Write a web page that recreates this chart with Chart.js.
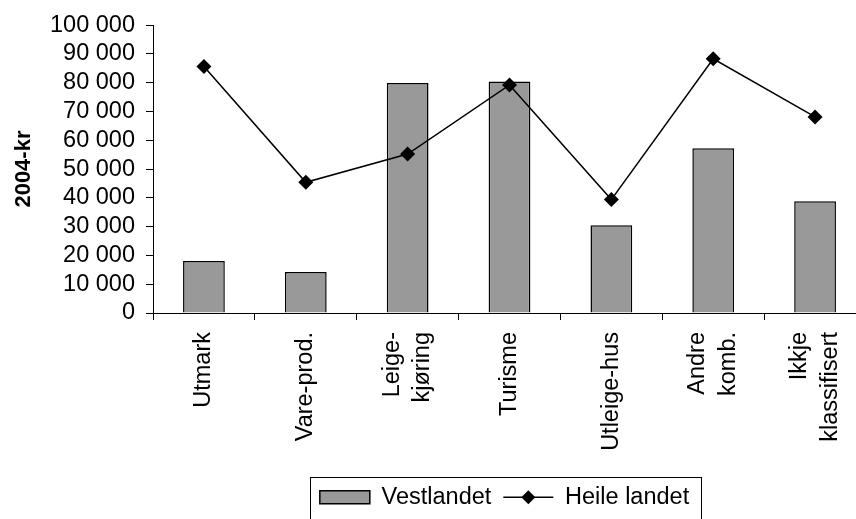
<!DOCTYPE html>
<html>
<head>
<meta charset="utf-8">
<script src="https://cdn.jsdelivr.net/npm/chart.js@4/dist/chart.umd.min.js"></script>
<style>
  html, body { margin: 0; padding: 0; background: #fff; overflow: hidden; }
  #wrap { width: 920px; height: 519px; }
</style>
</head>
<body>
<div id="wrap"><canvas id="myChart" width="920" height="519"></canvas></div>
<script>
// categories and values
const categories = [
    'Utmark', 'Vare-prod.', ['Leige-', 'kjøring'], 'Turisme',
    'Utleige-hus', ['Andre', 'komb.'], ['Ikkje', 'klassifisert']
];
const vestlandet = [18100, 14200, 79900, 80400, 30500, 57200, 38800];
const heileLandet = [85600, 45400, 55200, 79200, 39400, 88300, 68100];
const yTickLabels = ['0', '10 000', '20 000', '30 000', '40 000', '50 000',
    '60 000', '70 000', '80 000', '90 000', '100 000'];

const FONT = "'Liberation Sans', Arial, sans-serif";
const X_FONT_SIZE = 23.5;
const X_LINE_HEIGHT = 1.3;

// centre the two-line category labels on their tick (Chart.js puts the first line on it)
const centreLabels = {
    id: 'centreLabels',
    beforeDraw(chart) {
        const items = chart.scales.x.getLabelItems();
        const lh = X_FONT_SIZE * X_LINE_HEIGHT;
        items.forEach(item => {
            if (item._centred) return;
            const n = Array.isArray(item.label) ? item.label.length : 1;
            item.options.translation[0] -= (n - 1) * lh / 2;
            item._centred = true;
        });
    }
};

// draws the legend symbols and the frame round the legend
const legendFrame = {
    id: 'legendFrame',
    afterLayout(chart) {
        // the legend sits a little left of the plot centre in the original
        chart.legend.left -= 5;
        chart.legend.right -= 5;
    },
    afterDraw(chart) {
        const legend = chart.legend;
        const boxes = legend.legendHitBoxes;
        if (!boxes || !boxes.length) return;
        const ctx = chart.ctx;
        ctx.save();

        boxes.forEach((hb, i) => {
            const ds = chart.data.datasets[legend.legendItems[i].datasetIndex];
            const cy = hb.top + hb.height / 2;
            if (ds.type === 'line') {
                ctx.strokeStyle = '#000';
                ctx.lineWidth = 1.5;
                ctx.beginPath();
                ctx.moveTo(hb.left, cy);
                ctx.lineTo(hb.left + 50, cy);
                ctx.stroke();
                ctx.fillStyle = '#000';
                ctx.beginPath();
                const cx = hb.left + 25, r = 7;
                ctx.moveTo(cx - r, cy);
                ctx.lineTo(cx, cy - r);
                ctx.lineTo(cx + r, cy);
                ctx.lineTo(cx, cy + r);
                ctx.closePath();
                ctx.fill();
            } else {
                ctx.fillStyle = '#999999';
                ctx.strokeStyle = '#000';
                ctx.lineWidth = 1.5;
                ctx.fillRect(hb.left, cy - 6.5, 50, 13);
                ctx.strokeRect(hb.left, cy - 6.5, 50, 13);
            }
        });

        const first = boxes[0], last = boxes[boxes.length - 1];
        const left = first.left - 10;
        const right = last.left + last.width + 12;
        const top = first.top + first.height / 2 - 20;
        ctx.strokeStyle = '#000';
        ctx.lineWidth = 1;
        ctx.strokeRect(Math.round(left) + 0.5, Math.round(top) + 0.5, Math.round(right - left), 60);
        ctx.restore();
    }
};

const ctx = document.getElementById('myChart').getContext('2d');
new Chart(ctx, {
    data: {
        labels: categories,
        datasets: [
            {
                type: 'bar',
                label: 'Vestlandet',
                data: vestlandet,
                backgroundColor: '#999999',
                borderColor: '#000',
                borderWidth: 1.5,
                categoryPercentage: 1,
                barPercentage: 0.41,
                order: 2
            },
            {
                type: 'line',
                label: 'Heile landet',
                data: heileLandet,
                borderColor: '#000',
                borderWidth: 1.5,
                backgroundColor: '#000',
                pointStyle: 'rectRot',
                pointRadius: 7.5,
                pointBorderWidth: 0,
                pointBackgroundColor: '#000',
                tension: 0,
                fill: false,
                order: 1
            }
        ]
    },
    options: {
        responsive: false,
        animation: false,
        devicePixelRatio: 1,
        layout: { padding: { top: 24, left: 11, right: 54, bottom: 0 } },
        plugins: {
            tooltip: { enabled: false },
            legend: {
                position: 'bottom',
                fullSize: false,
                labels: {
                    color: '#000',
                    font: { family: FONT, size: 23.5 },
                    boxWidth: 50,
                    boxHeight: 13,
                    padding: 12,
                    sort: (a, b) => a.datasetIndex - b.datasetIndex,
                    generateLabels(chart) {
                        const items = Chart.defaults.plugins.legend.labels.generateLabels(chart);
                        return items.map(it => Object.assign(it, {
                            fillStyle: 'rgba(0,0,0,0)',
                            strokeStyle: 'rgba(0,0,0,0)',
                            lineWidth: 0
                        }));
                    }
                }
            }
        },
        scales: {
            x: {
                afterFit(scale) { scale.height = 160.5; },
                grid: {
                    offset: true,
                    drawOnChartArea: false,
                    drawTicks: true,
                    tickLength: 7,
                    color: '#000'
                },
                border: { display: true, color: '#000', width: 1 },
                ticks: {
                    autoSkip: false,
                    minRotation: 90,
                    maxRotation: 90,
                    padding: 12,
                    color: '#000',
                    font: { family: FONT, size: X_FONT_SIZE, lineHeight: X_LINE_HEIGHT }
                }
            },
            y: {
                min: 0,
                max: 100000,
                afterFit(scale) { scale.width = 142; },
                grid: {
                    drawOnChartArea: false,
                    drawTicks: true,
                    tickLength: 7,
                    color: '#000'
                },
                border: { display: true, color: '#000', width: 1 },
                ticks: {
                    stepSize: 10000,
                    autoSkip: false,
                    padding: 11,
                    color: '#000',
                    font: { family: FONT, size: 23.5 },
                    callback: (value, index) => yTickLabels[index]
                },
                title: {
                    display: true,
                    text: '2004-kr',
                    color: '#000',
                    padding: { top: 0, bottom: 0 },
                    font: { family: FONT, size: 22, weight: 'bold' }
                }
            }
        }
    },
    plugins: [centreLabels, legendFrame]
});
</script>
</body>
</html>
